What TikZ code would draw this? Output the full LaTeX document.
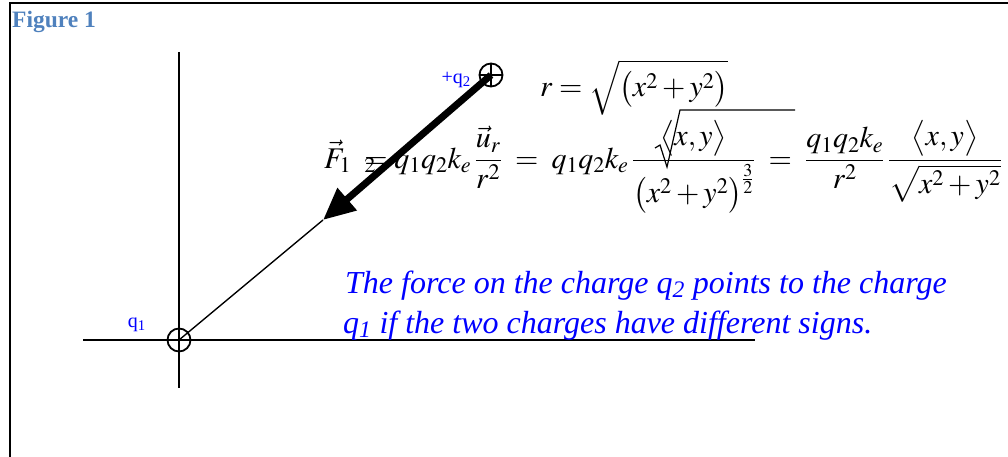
\documentclass[tikz,border=0pt]{standalone}
\usepackage{mathtools}
\usepackage{mathptmx}
\usepackage{fontspec}
\setmainfont{Liberation Serif}
\usetikzlibrary{arrows.meta,positioning}
\definecolor{figblue}{RGB}{79,129,189}

\begin{document}
\begin{tikzpicture}[
      x=1pt, y=-1pt,
      axis/.style={line width=1.8pt},
      charge/.style={circle, draw, line width=1.8pt, minimum size=23pt, inner sep=0pt},
      lbl/.style={text=blue, inner sep=0pt, font=\fontsize{20}{24}\selectfont},
      eqn/.style={inner sep=0pt, font=\fontsize{30}{36}\selectfont},
      note/.style={text=blue, inner sep=0pt, font=\fontsize{32}{40}\selectfont\itshape},
      force/.style={line width=7pt, -{Triangle[length=32pt,width=28pt]}}
    ]
    \useasboundingbox (0,0) rectangle (1008,457);
    % frame and caption
    \draw[line width=2pt] (10,457) -- (10,3) -- (1008,3);
    \node[anchor=base west, inner sep=0pt, text=figblue,
      font=\fontsize{23.5}{28}\selectfont\bfseries] (fig) at (12,28) {Figure 1};
    % axes
    \coordinate (xl) at (83,340);
    \coordinate (xr) at (755,340);
    \coordinate (yt) at (179,52);
    \coordinate (yb) at (179,388);
    \draw[axis] (xl) -- (xr);
    \draw[axis] (yt) -- (yb);
    % charges
    \node[charge] (q1) at (179,340) {};
    \node[charge] (q2) at (491,75) {};
    \draw[line width=1.5pt] (q2.north) -- (q2.south) (q2.west) -- (q2.east);
    \node[lbl, anchor=base east] (q1lbl) at (146,327) {q\textsubscript{1}};
    \node[lbl, anchor=base east] (q2lbl) at (471,84) {+q\textsubscript{2}};
    % force vector
    \coordinate (tip) at (323,220);
    \draw[line width=1.4pt] (q1.center) -- (tip);
    \draw[force] (q2.center) -- (tip);
    % equations
    \node[eqn, anchor=base west] (req) at (540,97)
      {$r=\sqrt{\bigl(x^2+y^2\bigr)}$};
    \node[eqn, anchor=base west] (feq) at (324,168)
      {$\displaystyle \vec{F}_1\;\;\mathrlap{{}_2}{=}\;q_1q_2k_e\,\frac{\vec{u}_r}{r^2}
        \;=\;q_1q_2k_e\,\frac{\bigl\langle x,y\bigr\rangle}{\bigl(x^2+y^2\bigr)^{\frac{3}{2}}}
        \;=\;\frac{q_1q_2k_e}{r^2}\,\frac{\bigl\langle x,y\bigr\rangle}{\sqrt{x^2+y^2}}$};
    \draw[line width=1.2pt] (655,148) -- (660,145) -- (667,167) -- (680,110) -- (795,110);
    % note
    \node[note, anchor=base west] (line1) at (345,293)
      {The force on the charge q\textsubscript{2} points to the charge};
    \node[note, anchor=base west] (line2) at (343,333)
      {q\textsubscript{1} if the two charges have different signs.};
  \end{tikzpicture}
\end{document}
